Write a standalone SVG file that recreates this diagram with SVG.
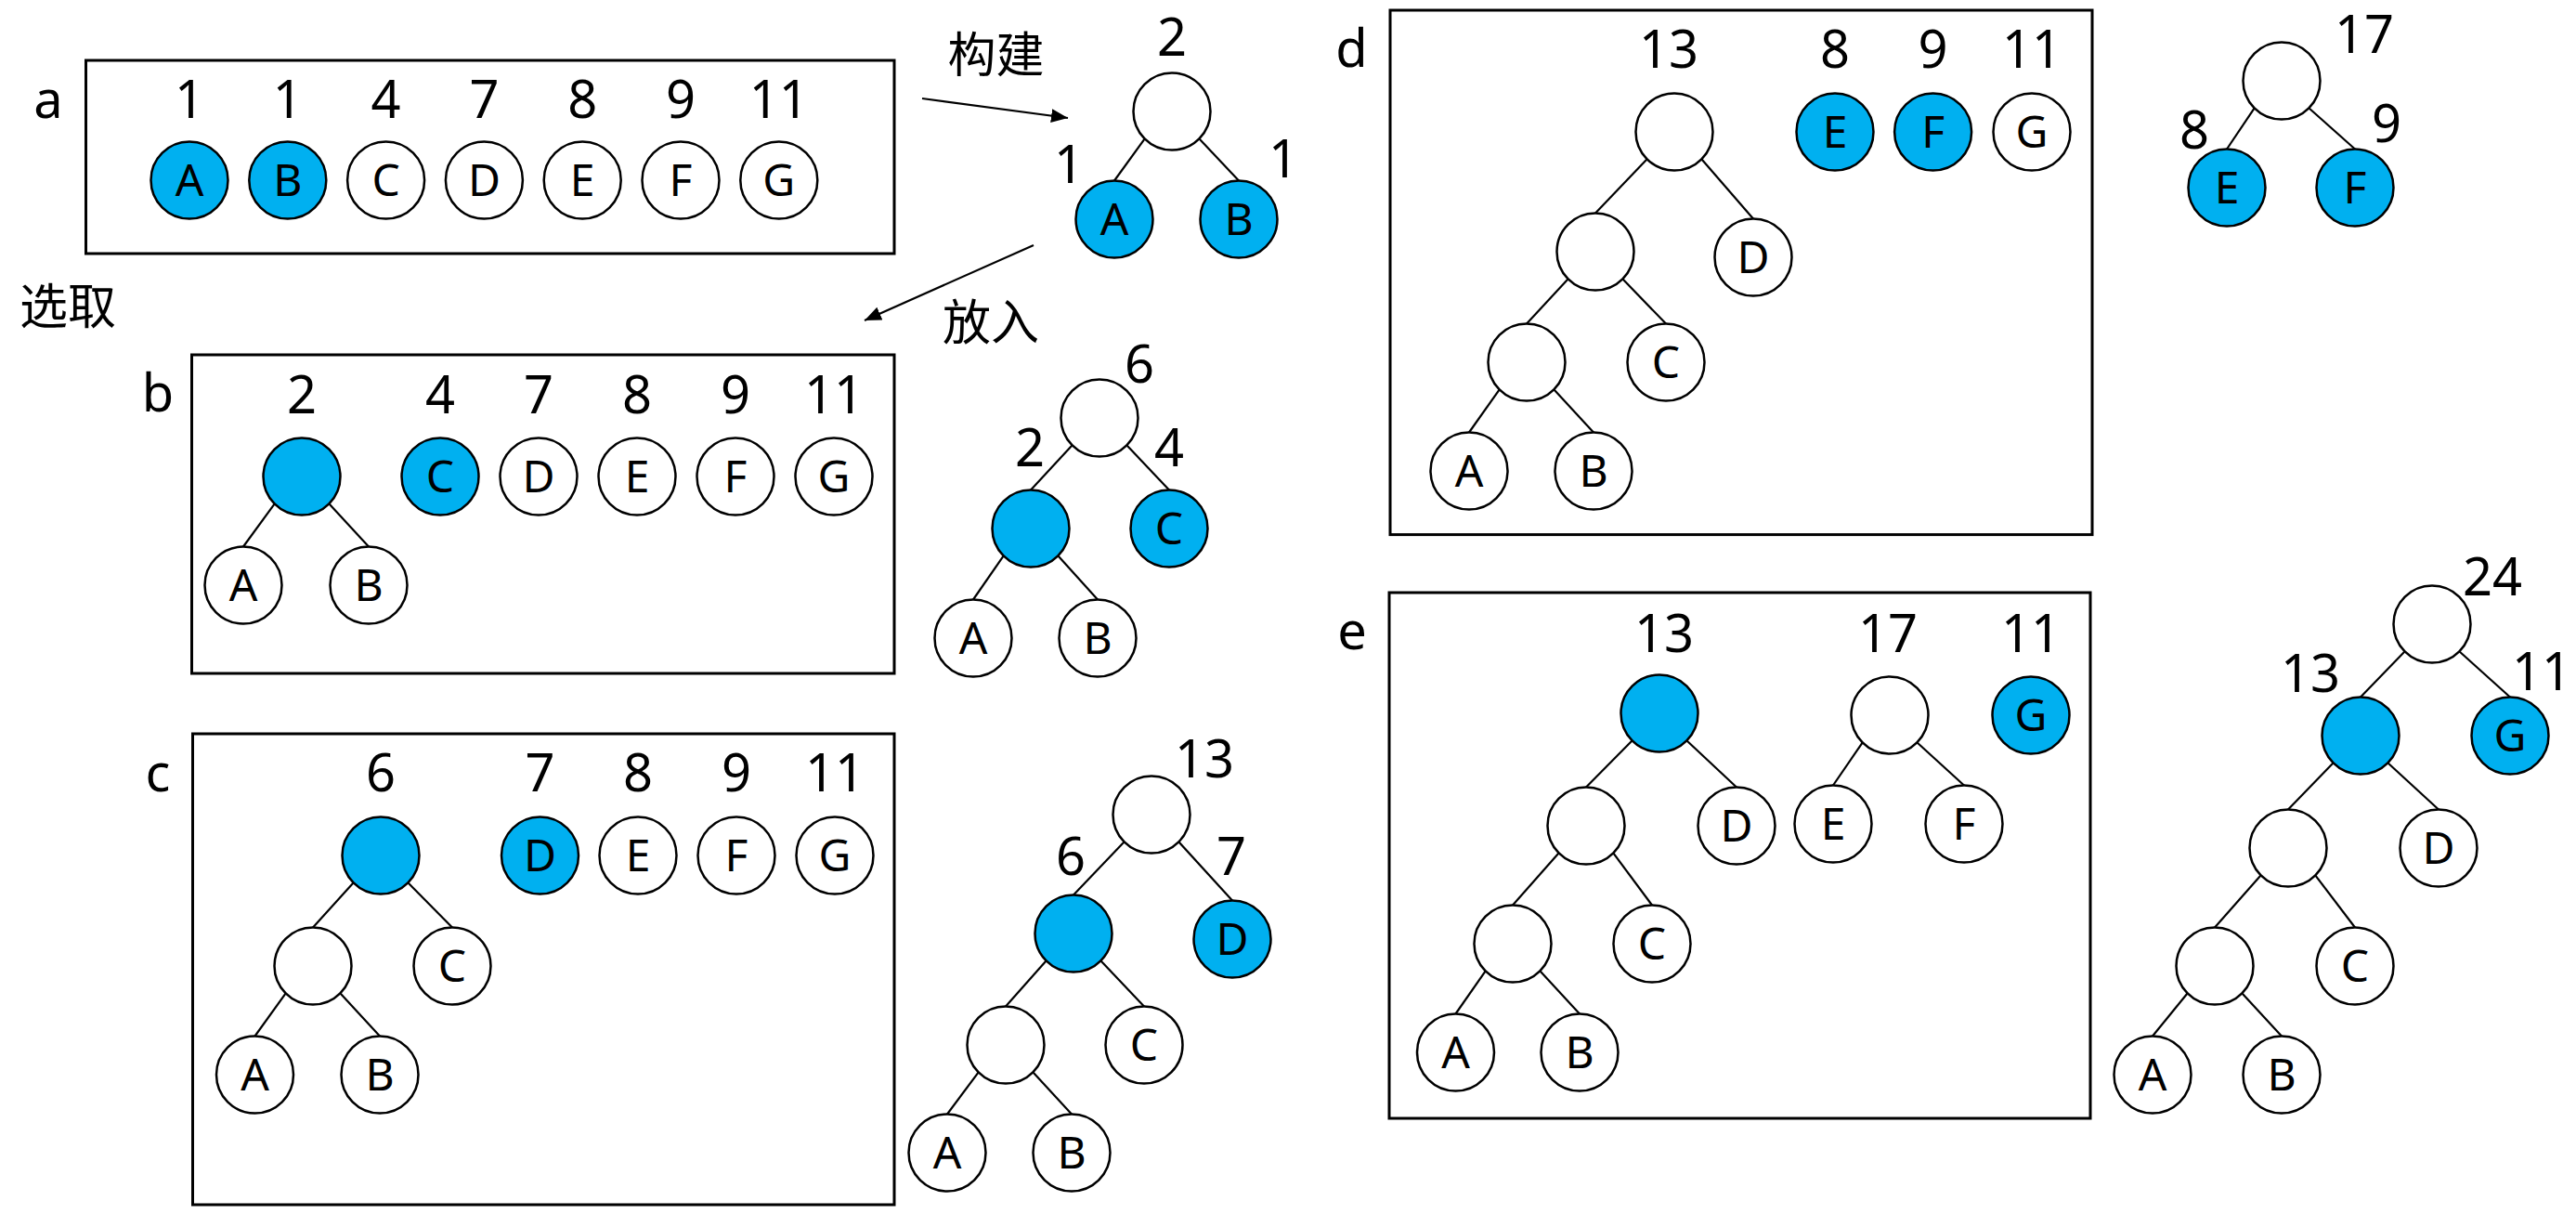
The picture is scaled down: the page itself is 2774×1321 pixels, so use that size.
<svg xmlns="http://www.w3.org/2000/svg" width="2774" height="1321" viewBox="0 0 2774 1321">
<style>
.bg{fill:#fff}
.box{fill:none;stroke:#000;stroke-width:3}
.n{fill:#fff;stroke:#000;stroke-width:2.5}
.h{fill:#00B0F0;stroke:#000;stroke-width:2.5}
.e line{stroke:#000;stroke-width:2.2}
.t{font-family:"Noto Sans","Liberation Sans",sans-serif;font-size:56px;text-anchor:middle;fill:#000}
.l{font-family:"Noto Sans","Liberation Sans",sans-serif;font-size:48px;text-anchor:middle;fill:#000}
.cj{font-family:"Noto Sans CJK SC","Noto Sans",sans-serif;font-size:52px;text-anchor:middle;fill:#000}
.ar{stroke:#000;stroke-width:2.5;fill:none}
</style>
<defs>
<marker id="arr" markerUnits="userSpaceOnUse" markerWidth="20" markerHeight="16" refX="18" refY="7.5" orient="auto">
<path d="M0,0 L18,7.5 L0,15 z" fill="#000"/>
</marker>
</defs>
<rect class="bg" x="0" y="0" width="2774" height="1321"/>

<g id="frames">
<rect class="box" x="92.5" y="65" width="870.5" height="208"/>
<rect class="box" x="206.5" y="382" width="756.5" height="343"/>
<rect class="box" x="207.5" y="790" width="755.5" height="507"/>
<rect class="box" x="1497" y="11" width="756" height="564.6"/>
<rect class="box" x="1496" y="638" width="755" height="566"/>
</g>

<g id="labels">
<text class="t" x="52" y="127">a</text>
<text class="t" x="170" y="443">b</text>
<text class="t" x="170" y="852">c</text>
<text class="t" x="1455.5" y="71.5">d</text>
<text class="t" x="1456" y="699">e</text>

<text class="t" x="204" y="127">1</text>
<text class="t" x="309.8" y="127">1</text>
<text class="t" x="415.6" y="127">4</text>
<text class="t" x="521.4" y="127">7</text>
<text class="t" x="627.2" y="127">8</text>
<text class="t" x="733" y="127">9</text>
<text class="t" x="838.8" y="127">11</text>

<text class="t" x="1262" y="60">2</text>
<text class="t" x="1151" y="197">1</text>
<text class="t" x="1382" y="191">1</text>

<text class="t" x="325" y="445">2</text>
<text class="t" x="474" y="445">4</text>
<text class="t" x="580" y="445">7</text>
<text class="t" x="686" y="445">8</text>
<text class="t" x="792" y="445">9</text>
<text class="t" x="898" y="445">11</text>

<text class="t" x="1227" y="412">6</text>
<text class="t" x="1109" y="502">2</text>
<text class="t" x="1259" y="502">4</text>

<text class="t" x="410" y="852">6</text>
<text class="t" x="581.5" y="852">7</text>
<text class="t" x="687" y="852">8</text>
<text class="t" x="793" y="852">9</text>
<text class="t" x="899" y="852">11</text>

<text class="t" x="1297" y="837">13</text>
<text class="t" x="1153" y="942">6</text>
<text class="t" x="1326" y="942">7</text>

<text class="t" x="1797" y="73">13</text>
<text class="t" x="1976" y="73">8</text>
<text class="t" x="2081.6" y="73">9</text>
<text class="t" x="2188" y="73">11</text>

<text class="t" x="2546" y="57">17</text>
<text class="t" x="2363" y="160">8</text>
<text class="t" x="2570" y="153">9</text>

<text class="t" x="1792" y="702">13</text>
<text class="t" x="2033" y="702">17</text>
<text class="t" x="2187" y="702">11</text>

<text class="t" x="2684" y="641">24</text>
<text class="t" x="2488" y="745">13</text>
<text class="t" x="2737" y="743">11</text>

<text class="cj" x="1072.5" y="78">构建</text>
<text class="cj" x="73" y="349">选取</text>
<text class="cj" x="1067" y="366">放入</text>
</g>

<g id="connectors" class="e">
<line class="ar" x1="993" y1="106" x2="1150" y2="127" marker-end="url(#arr)"/>
<line class="ar" x1="1113" y1="264" x2="931" y2="345" marker-end="url(#arr)"/>

<line x1="1232.7" y1="149.3" x2="1200" y2="194.5"/>
<line x1="1291.3" y1="149.3" x2="1334" y2="194.5"/>

<line x1="295.7" y1="542.3" x2="262" y2="588.5"/>
<line x1="354.3" y1="542.3" x2="397" y2="588.5"/>

<line x1="1154.7" y1="479.3" x2="1110" y2="527.5"/>
<line x1="1213.3" y1="479.3" x2="1259" y2="527.5"/>
<line x1="1080.7" y1="598.3" x2="1048" y2="645.5"/>
<line x1="1139.3" y1="598.3" x2="1182" y2="645.5"/>

<line x1="380.7" y1="950.3" x2="337" y2="998.5"/>
<line x1="439.3" y1="950.3" x2="487" y2="998.5"/>
<line x1="307.7" y1="1069.3" x2="274.5" y2="1115.5"/>
<line x1="366.3" y1="1069.3" x2="409" y2="1115.5"/>

<line x1="1210.7" y1="906.3" x2="1156" y2="963.5"/>
<line x1="1269.3" y1="906.3" x2="1327" y2="969.5"/>
<line x1="1126.7" y1="1034.3" x2="1083" y2="1083.5"/>
<line x1="1185.3" y1="1034.3" x2="1232" y2="1083.5"/>
<line x1="1053.7" y1="1154.3" x2="1020" y2="1199.5"/>
<line x1="1112.3" y1="1154.3" x2="1154" y2="1199.5"/>

<line x1="1773.7" y1="171.3" x2="1718" y2="229.5"/>
<line x1="1832.3" y1="171.3" x2="1888" y2="235.5"/>
<line x1="1688.7" y1="300.3" x2="1644" y2="348.5"/>
<line x1="1747.3" y1="300.3" x2="1794" y2="348.5"/>
<line x1="1614.7" y1="419.3" x2="1582" y2="465.5"/>
<line x1="1673.3" y1="419.3" x2="1716" y2="465.5"/>

<line x1="2427.7" y1="116.3" x2="2398" y2="160.5"/>
<line x1="2486.3" y1="116.3" x2="2536" y2="160.5"/>

<line x1="1757.7" y1="797.3" x2="1708" y2="847.5"/>
<line x1="1816.3" y1="797.3" x2="1870" y2="847.5"/>
<line x1="2005.7" y1="799.3" x2="1974" y2="845.5"/>
<line x1="2064.3" y1="799.3" x2="2115" y2="845.5"/>
<line x1="1678.7" y1="918.3" x2="1629" y2="974.5"/>
<line x1="1737.3" y1="918.3" x2="1779" y2="974.5"/>
<line x1="1599.7" y1="1045.3" x2="1567.5" y2="1091.5"/>
<line x1="1658.3" y1="1045.3" x2="1701" y2="1091.5"/>

<line x1="2589.7" y1="701.3" x2="2542" y2="750.5"/>
<line x1="2648.3" y1="701.3" x2="2703" y2="750.5"/>
<line x1="2512.7" y1="821.3" x2="2464" y2="871.5"/>
<line x1="2571.3" y1="821.3" x2="2626" y2="871.5"/>
<line x1="2434.7" y1="942.3" x2="2385" y2="998.5"/>
<line x1="2493.3" y1="942.3" x2="2536" y2="998.5"/>
<line x1="2355.7" y1="1069.3" x2="2318" y2="1115.5"/>
<line x1="2414.3" y1="1069.3" x2="2457" y2="1115.5"/>
</g>

<g id="a-A"><circle class="h" cx="204" cy="194" r="41.5"/><text class="l" x="204" y="211">A</text></g>
<g id="a-B"><circle class="h" cx="309.8" cy="194" r="41.5"/><text class="l" x="309.8" y="211">B</text></g>
<g id="a-C"><circle class="n" cx="415.6" cy="194" r="41.5"/><text class="l" x="415.6" y="211">C</text></g>
<g id="a-D"><circle class="n" cx="521.4" cy="194" r="41.5"/><text class="l" x="521.4" y="211">D</text></g>
<g id="a-E"><circle class="n" cx="627.2" cy="194" r="41.5"/><text class="l" x="627.2" y="211">E</text></g>
<g id="a-F"><circle class="n" cx="733" cy="194" r="41.5"/><text class="l" x="733" y="211">F</text></g>
<g id="a-G"><circle class="n" cx="838.8" cy="194" r="41.5"/><text class="l" x="838.8" y="211">G</text></g>

<g id="ta-root"><circle class="n" cx="1262" cy="120" r="41.5"/></g>
<g id="ta-A"><circle class="h" cx="1200" cy="236" r="41.5"/><text class="l" x="1200" y="253">A</text></g>
<g id="ta-B"><circle class="h" cx="1334" cy="236" r="41.5"/><text class="l" x="1334" y="253">B</text></g>

<g id="b-root"><circle class="h" cx="325" cy="513" r="41.5"/></g>
<g id="b-A"><circle class="n" cx="262" cy="630" r="41.5"/><text class="l" x="262" y="647">A</text></g>
<g id="b-B"><circle class="n" cx="397" cy="630" r="41.5"/><text class="l" x="397" y="647">B</text></g>
<g id="b-C"><circle class="h" cx="474" cy="513" r="41.5"/><text class="l" x="474" y="530">C</text></g>
<g id="b-D"><circle class="n" cx="580" cy="513" r="41.5"/><text class="l" x="580" y="530">D</text></g>
<g id="b-E"><circle class="n" cx="686" cy="513" r="41.5"/><text class="l" x="686" y="530">E</text></g>
<g id="b-F"><circle class="n" cx="792" cy="513" r="41.5"/><text class="l" x="792" y="530">F</text></g>
<g id="b-G"><circle class="n" cx="898" cy="513" r="41.5"/><text class="l" x="898" y="530">G</text></g>

<g id="tb-root"><circle class="n" cx="1184" cy="450" r="41.5"/></g>
<g id="tb-mid"><circle class="h" cx="1110" cy="569" r="41.5"/></g>
<g id="tb-C"><circle class="h" cx="1259" cy="569" r="41.5"/><text class="l" x="1259" y="586">C</text></g>
<g id="tb-A"><circle class="n" cx="1048" cy="687" r="41.5"/><text class="l" x="1048" y="704">A</text></g>
<g id="tb-B"><circle class="n" cx="1182" cy="687" r="41.5"/><text class="l" x="1182" y="704">B</text></g>

<g id="c-root"><circle class="h" cx="410" cy="921" r="41.5"/></g>
<g id="c-mid"><circle class="n" cx="337" cy="1040" r="41.5"/></g>
<g id="c-C"><circle class="n" cx="487" cy="1040" r="41.5"/><text class="l" x="487" y="1057">C</text></g>
<g id="c-A"><circle class="n" cx="274.5" cy="1157" r="41.5"/><text class="l" x="274.5" y="1174">A</text></g>
<g id="c-B"><circle class="n" cx="409" cy="1157" r="41.5"/><text class="l" x="409" y="1174">B</text></g>
<g id="c-D"><circle class="h" cx="581.5" cy="921" r="41.5"/><text class="l" x="581.5" y="938">D</text></g>
<g id="c-E"><circle class="n" cx="687" cy="921" r="41.5"/><text class="l" x="687" y="938">E</text></g>
<g id="c-F"><circle class="n" cx="793" cy="921" r="41.5"/><text class="l" x="793" y="938">F</text></g>
<g id="c-G"><circle class="n" cx="899" cy="921" r="41.5"/><text class="l" x="899" y="938">G</text></g>

<g id="tc-root"><circle class="n" cx="1240" cy="877" r="41.5"/></g>
<g id="tc-mid"><circle class="h" cx="1156" cy="1005" r="41.5"/></g>
<g id="tc-D"><circle class="h" cx="1327" cy="1011" r="41.5"/><text class="l" x="1327" y="1028">D</text></g>
<g id="tc-mid2"><circle class="n" cx="1083" cy="1125" r="41.5"/></g>
<g id="tc-C"><circle class="n" cx="1232" cy="1125" r="41.5"/><text class="l" x="1232" y="1142">C</text></g>
<g id="tc-A"><circle class="n" cx="1020" cy="1241" r="41.5"/><text class="l" x="1020" y="1258">A</text></g>
<g id="tc-B"><circle class="n" cx="1154" cy="1241" r="41.5"/><text class="l" x="1154" y="1258">B</text></g>

<g id="d-root"><circle class="n" cx="1803" cy="142" r="41.5"/></g>
<g id="d-mid1"><circle class="n" cx="1718" cy="271" r="41.5"/></g>
<g id="d-D"><circle class="n" cx="1888" cy="277" r="41.5"/><text class="l" x="1888" y="294">D</text></g>
<g id="d-mid2"><circle class="n" cx="1644" cy="390" r="41.5"/></g>
<g id="d-C"><circle class="n" cx="1794" cy="390" r="41.5"/><text class="l" x="1794" y="407">C</text></g>
<g id="d-A"><circle class="n" cx="1582" cy="507" r="41.5"/><text class="l" x="1582" y="524">A</text></g>
<g id="d-B"><circle class="n" cx="1716" cy="507" r="41.5"/><text class="l" x="1716" y="524">B</text></g>
<g id="d-E"><circle class="h" cx="1976" cy="142" r="41.5"/><text class="l" x="1976" y="159">E</text></g>
<g id="d-F"><circle class="h" cx="2081.6" cy="142" r="41.5"/><text class="l" x="2081.6" y="159">F</text></g>
<g id="d-G"><circle class="n" cx="2188" cy="142" r="41.5"/><text class="l" x="2188" y="159">G</text></g>

<g id="td-root"><circle class="n" cx="2457" cy="87" r="41.5"/></g>
<g id="td-E"><circle class="h" cx="2398" cy="202" r="41.5"/><text class="l" x="2398" y="219">E</text></g>
<g id="td-F"><circle class="h" cx="2536" cy="202" r="41.5"/><text class="l" x="2536" y="219">F</text></g>

<g id="e-root"><circle class="h" cx="1787" cy="768" r="41.5"/></g>
<g id="e-mid1"><circle class="n" cx="1708" cy="889" r="41.5"/></g>
<g id="e-D"><circle class="n" cx="1870" cy="889" r="41.5"/><text class="l" x="1870" y="906">D</text></g>
<g id="e-mid2"><circle class="n" cx="1629" cy="1016" r="41.5"/></g>
<g id="e-C"><circle class="n" cx="1779" cy="1016" r="41.5"/><text class="l" x="1779" y="1033">C</text></g>
<g id="e-A"><circle class="n" cx="1567.5" cy="1133" r="41.5"/><text class="l" x="1567.5" y="1150">A</text></g>
<g id="e-B"><circle class="n" cx="1701" cy="1133" r="41.5"/><text class="l" x="1701" y="1150">B</text></g>
<g id="e-root17"><circle class="n" cx="2035" cy="770" r="41.5"/></g>
<g id="e-E"><circle class="n" cx="1974" cy="887" r="41.5"/><text class="l" x="1974" y="904">E</text></g>
<g id="e-F"><circle class="n" cx="2115" cy="887" r="41.5"/><text class="l" x="2115" y="904">F</text></g>
<g id="e-G"><circle class="h" cx="2187" cy="770" r="41.5"/><text class="l" x="2187" y="787">G</text></g>

<g id="te-root"><circle class="n" cx="2619" cy="672" r="41.5"/></g>
<g id="te-mid"><circle class="h" cx="2542" cy="792" r="41.5"/></g>
<g id="te-G"><circle class="h" cx="2703" cy="792" r="41.5"/><text class="l" x="2703" y="809">G</text></g>
<g id="te-mid2"><circle class="n" cx="2464" cy="913" r="41.5"/></g>
<g id="te-D"><circle class="n" cx="2626" cy="913" r="41.5"/><text class="l" x="2626" y="930">D</text></g>
<g id="te-mid3"><circle class="n" cx="2385" cy="1040" r="41.5"/></g>
<g id="te-C"><circle class="n" cx="2536" cy="1040" r="41.5"/><text class="l" x="2536" y="1057">C</text></g>
<g id="te-A"><circle class="n" cx="2318" cy="1157" r="41.5"/><text class="l" x="2318" y="1174">A</text></g>
<g id="te-B"><circle class="n" cx="2457" cy="1157" r="41.5"/><text class="l" x="2457" y="1174">B</text></g>
</svg>
